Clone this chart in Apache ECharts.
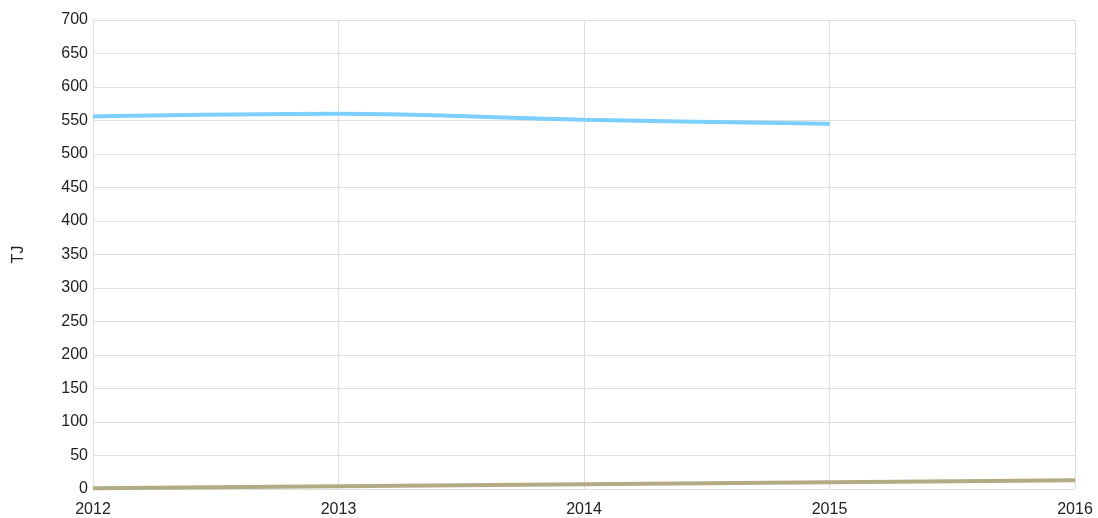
<!DOCTYPE html>
<html>
<head>
<meta charset="utf-8">
<script src="https://cdn.jsdelivr.net/npm/echarts@6/dist/echarts.min.js"></script>
<style>
  html, body { margin: 0; padding: 0; background: #fff; }
  #chart { width: 1098px; height: 518px; }
</style>
</head>
<body>
<div id="chart"></div>
<script>
// Years on the horizontal axis
const years = ['2012', '2013', '2014', '2015', '2016'];
// Energy values in TJ
const seriesBlue = [556, 560, 551, 545, null];
const seriesKhaki = [1, 4, 7, 10, 13];
const yUnit = 'TJ';

const chart = echarts.init(document.getElementById('chart'));
const gridColor = '#dedede';
const labelStyle = { color: '#222', fontSize: 16, fontFamily: 'Liberation Sans, Arial, sans-serif' };

chart.setOption({
  animation: false,
  grid: { left: 93, right: 23, top: 20, bottom: 29, containLabel: false },
  xAxis: {
    type: 'category',
    data: years,
    boundaryGap: false,
    axisLine: { show: true, lineStyle: { color: gridColor } },
    axisTick: { show: false },
    axisLabel: Object.assign({ margin: 13 }, labelStyle),
    splitLine: { show: true, lineStyle: { color: gridColor, width: 1 } }
  },
  yAxis: {
    type: 'value',
    min: 0,
    max: 700,
    interval: 50,
    name: yUnit,
    nameLocation: 'middle',
    nameRotate: 90,
    nameGap: 66,
    nameTextStyle: labelStyle,
    axisLine: { show: false },
    axisTick: { show: false },
    axisLabel: Object.assign({ margin: 5, padding: [2, 0, 0, 0] }, labelStyle),
    splitLine: { show: true, lineStyle: { color: gridColor, width: 1 } }
  },
  series: [
    {
      type: 'line',
      data: seriesBlue,
      smooth: 0.35,
      showSymbol: false,
      lineStyle: { color: '#7ccfff', width: 4 },
      itemStyle: { color: '#7ccfff' }
    },
    {
      type: 'line',
      data: seriesKhaki,
      smooth: 0.35,
      showSymbol: false,
      lineStyle: { color: '#b3ab84', width: 4 },
      itemStyle: { color: '#b3ab84' }
    }
  ]
});
</script>
</body>
</html>
